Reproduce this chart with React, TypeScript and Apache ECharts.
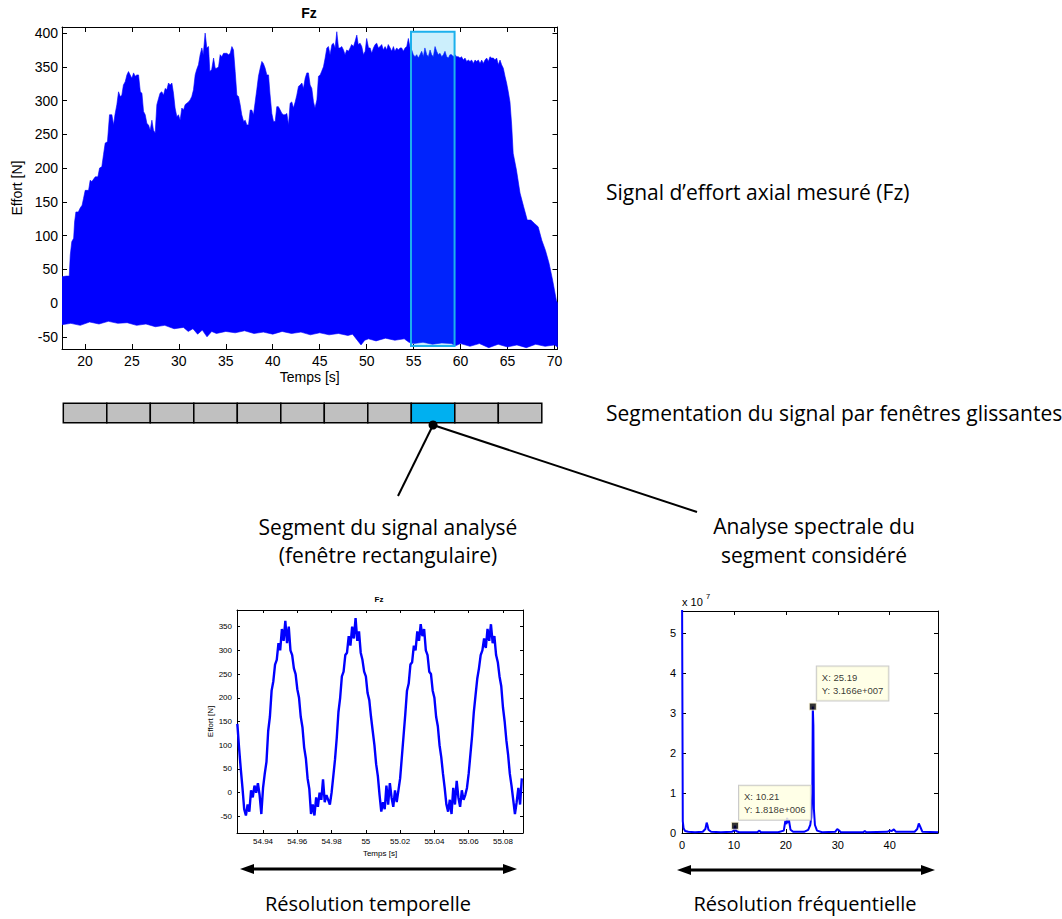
import React, { useEffect, useRef } from 'react';
import * as echarts from 'echarts';

// ---------- Top chart: envelope of the measured Fz signal ----------
const FZ_UPPER: [number, number][] = [
  [17.56, 39], [18.0, 40], [18.33, 40], [18.44, 71], [18.6, 91], [18.8, 96], [18.9, 120], [19.04, 135], [19.3, 135], [19.5, 141],
  [19.7, 145], [19.85, 155], [20.03, 167], [20.39, 167], [20.56, 182], [20.74, 180], [21.1, 187], [21.38, 187], [21.56, 200], [21.8, 202],
  [21.98, 220], [22.16, 237], [22.4, 239], [22.62, 279], [22.87, 279], [23.05, 264], [23.2, 279], [23.4, 294], [23.58, 313], [23.76, 306],
  [23.93, 308], [24.1, 323], [24.29, 328], [24.47, 338], [24.64, 343], [24.82, 338], [25.0, 333], [25.18, 341], [25.35, 336], [25.53, 338],
  [25.71, 338], [25.9, 313], [26.07, 311], [26.24, 284], [26.42, 279], [26.6, 266], [26.77, 264], [26.95, 256], [27.13, 271], [27.3, 256],
  [27.48, 252], [27.66, 294], [27.84, 303], [28.0, 311], [28.19, 313], [28.37, 308], [28.55, 318], [28.72, 316], [28.9, 326], [29.08, 323],
  [29.26, 326], [29.43, 311], [29.6, 289], [29.79, 276], [29.96, 279], [30.14, 271], [30.32, 289], [30.5, 286], [30.67, 294], [30.85, 296],
  [31.03, 298], [31.2, 301], [31.38, 306], [31.56, 316], [31.74, 338], [31.9, 346], [32.09, 353], [32.27, 368], [32.45, 378], [32.6, 368],
  [32.8, 400], [32.98, 378], [33.16, 380], [33.3, 343], [33.5, 346], [33.7, 363], [33.87, 348], [34.05, 348], [34.23, 350], [34.4, 368],
  [34.58, 365], [34.76, 370], [34.94, 370], [35.1, 370], [35.3, 368], [35.47, 370], [35.65, 380], [35.82, 375], [36.0, 343], [36.18, 308],
  [36.36, 306], [36.53, 294], [36.7, 279], [36.9, 269], [37.07, 271], [37.24, 264], [37.42, 264], [37.6, 286], [37.77, 286], [37.95, 279],
  [38.13, 298], [38.3, 316], [38.48, 336], [38.66, 348], [38.84, 358], [39.0, 355], [39.19, 348], [39.37, 338], [39.55, 338], [39.7, 311],
  [39.9, 281], [40.08, 269], [40.26, 269], [40.43, 291], [40.6, 291], [40.79, 286], [40.97, 281], [41.14, 279], [41.32, 279], [41.5, 281],
  [41.68, 264], [41.85, 296], [42.03, 298], [42.2, 289], [42.39, 298], [42.56, 308], [42.74, 321], [42.92, 323], [43.1, 326], [43.27, 318],
  [43.45, 333], [43.63, 341], [43.8, 341], [43.98, 323], [44.16, 318], [44.34, 298], [44.5, 289], [44.7, 301], [44.87, 336], [45.05, 338],
  [45.2, 343], [45.4, 350], [45.58, 363], [45.76, 378], [45.93, 380], [46.1, 368], [46.3, 383], [46.46, 385], [46.64, 378], [46.82, 402],
  [47.0, 378], [47.17, 378], [47.35, 380], [47.53, 375], [47.7, 368], [47.88, 375], [48.06, 373], [48.24, 378], [48.4, 383], [48.6, 380],
  [48.77, 388], [48.95, 397], [49.1, 383], [49.3, 385], [49.48, 380], [49.66, 368], [49.84, 373], [50.0, 392], [50.2, 378], [50.37, 378],
  [50.54, 370], [50.72, 378], [50.9, 383], [51.07, 385], [51.25, 378], [51.43, 380], [51.6, 383], [51.78, 375], [51.96, 380], [52.13, 375],
  [52.3, 383], [52.5, 378], [52.67, 373], [52.85, 380], [53.0, 373], [53.2, 378], [53.38, 375], [53.56, 378], [53.73, 378], [53.9, 373],
  [54.09, 378], [54.27, 380], [54.44, 392], [54.62, 378], [54.8, 375], [54.97, 368], [55.15, 365], [55.33, 368], [55.5, 363], [55.68, 368],
  [55.86, 373], [56.04, 365], [56.2, 378], [56.4, 368], [56.57, 365], [56.75, 375], [56.92, 368], [57.1, 365], [57.28, 380], [57.45, 373],
  [57.63, 368], [57.81, 370], [57.99, 365], [58.17, 368], [58.34, 373], [58.52, 365], [58.7, 363], [58.87, 368], [59.05, 368], [59.23, 365],
  [59.4, 368], [59.59, 365], [59.76, 365], [59.94, 363], [60.1, 365], [60.3, 360], [60.47, 363], [60.65, 358], [60.83, 360], [61.0, 358],
  [61.18, 360], [61.36, 355], [61.54, 360], [61.71, 358], [61.89, 360], [62.07, 355], [62.25, 360], [62.42, 355], [62.6, 360], [62.78, 363],
  [62.96, 358], [63.13, 365], [63.3, 363], [63.5, 363], [63.66, 360], [63.84, 363], [64.02, 353], [64.2, 360], [64.37, 353], [64.55, 348],
  [64.73, 336], [64.9, 326], [65.08, 313], [65.26, 298], [65.44, 264], [65.6, 222], [65.95, 197], [66.33, 163], [66.71, 143], [67.1, 123],
  [67.49, 123], [67.87, 118], [68.26, 113], [68.65, 93], [69.04, 78], [69.42, 59], [69.8, 34], [70.0, 19], [70.2, 4], [70.32, 0],
];

const FZ_LOWER: [number, number][] = [
  [17.56, -32], [18.5, -30], [19.5, -33], [20.5, -28], [21.5, -31], [22.5, -27], [23.5, -30], [24.5, -29], [25.5, -33], [26.5, -31],
  [27.5, -35], [28.5, -33], [29.5, -38], [30.5, -36], [31.0, -42], [31.5, -38], [32.0, -46], [32.5, -40], [33.0, -50], [33.5, -42],
  [34.0, -45], [35.0, -42], [36.0, -44], [37.0, -41], [38.0, -45], [39.0, -43], [40.0, -46], [41.0, -42], [42.0, -45], [43.0, -43],
  [44.0, -47], [45.0, -44], [46.0, -47], [47.0, -45], [48.0, -48], [48.5, -46], [49.0, -55], [49.4, -62], [49.8, -55], [50.2, -53],
  [51.0, -56], [52.0, -52], [53.0, -55], [54.0, -53], [54.5, -58], [55.0, -60], [56.0, -58], [57.0, -61], [58.0, -59], [59.0, -60],
  [59.5, -63], [60.0, -60], [61.0, -64], [62.0, -60], [63.0, -66], [64.0, -61], [65.0, -65], [66.0, -62], [67.0, -66], [68.0, -61],
  [69.0, -64], [70.0, -62], [70.32, -65],
];

// analysed window [t start, t end, Fz low, Fz high]
const WINDOW: [number, number, number, number] = [54.72, 59.36, -63.4, 402];

const TOP_X_TICKS = [20, 25, 30, 35, 40, 45, 50, 55, 60, 65, 70];
const TOP_Y_TICKS = [-50, 0, 50, 100, 150, 200, 250, 300, 350, 400];

// ---------- Bottom-left: zoom on the segment (1 ms sampling) ----------
const SEG_T0 = 54.925;
const SEG_DT = 0.001;
const SEG_FZ = [
  145, 95, 50, 10, -35, -48, -25, -40, 5, -10, 15, 0, 20, -5, -45,
  10, 40, 65, 130, 160, 215, 235, 270, 280, 315, 300, 345, 320, 362, 315, 350, 300, 290, 262, 250,
  218, 200, 160, 138, 95, 72, 30, 8, -45, -25,
  -48, -10, -30, 0, -15, 28, -20, -5, -15, -25,
  0, 35, 70, 115, 170, 200, 245, 255, 290, 295, 330, 310, 350, 325, 368, 320, 340, 295, 280, 255,
  245, 210, 195, 160, 130, 100, 60, 35, -5, -40, -20,
  -35, 15, -25, 20, -10, -30, 5, -20,
  5, 30, 75, 120, 165, 215, 230, 270, 275, 310, 300, 340, 320, 355, 330, 345, 300, 290, 255, 250,
  215, 200, 160, 140, 100, 75, 40, 10, -25, -40, -15,
  -45, 10, -25, 25, -10, -30, 5, -15, -5,
  10, 40, 80, 120, 170, 205, 240, 262, 290, 300, 325, 305, 345, 320, 355, 315, 330, 290,
  275, 245, 225, 180, 150, 110, 80, 40, 15, -15, -45, -20, 10, -25, 30,
];
const SEG_X_TICKS = [54.94, 54.96, 54.98, 55, 55.02, 55.04, 55.06, 55.08];
const SEG_Y_TICKS = [-50, 0, 50, 100, 150, 200, 250, 300, 350];

// ---------- Bottom-right: spectrum ----------
const SPEC_F = [
  0, 0.15, 0.3, 0.6, 1.2, 2.5, 4.0, 4.5, 4.75, 4.9, 5.1, 5.6, 7.5, 9.6, 10.0, 10.21, 10.4, 11, 14.5, 14.9,
  15.2, 18.5, 19.6, 19.9, 20.1, 20.25, 20.45, 20.6, 20.9, 21.4, 23.5, 24.3, 24.7, 24.9, 25.1, 25.19, 25.3, 25.4, 25.6, 26.0,
  27.0, 29.5, 29.9, 30.2, 30.6, 34.9, 35.2, 35.5, 39.5, 40.0, 40.4, 40.8, 41.2, 44.8, 45.3, 45.6, 45.9, 46.3, 49.3,
];
const SPEC_A = [
  6.5e7, 0.3e7, 0.12e7, 0.05e7, 0.03e7, 0.02e7, 0.03e7, 0.1e7, 0.26e7, 0.2e7, 0.08e7, 0.03e7, 0.02e7, 0.03e7, 0.06e7, 1.818e6, 0.05e7, 0.02e7, 0.02e7, 0.06e7,
  0.02e7, 0.02e7, 0.06e7, 0.3e7, 0.22e7, 0.38e7, 0.25e7, 0.32e7, 0.08e7, 0.03e7, 0.03e7, 0.08e7, 0.2e7, 0.4e7, 1.0e7, 3.166e7, 2.7e7, 0.6e7, 0.2e7, 0.06e7,
  0.02e7, 0.03e7, 0.1e7, 0.07e7, 0.02e7, 0.02e7, 0.05e7, 0.02e7, 0.03e7, 0.06e7, 0.05e7, 0.09e7, 0.03e7, 0.03e7, 0.1e7, 0.24e7, 0.15e7, 0.03e7, 0.02e7,
];
const SPEC_TIPS: [number, number][] = [[25.19, 3.166e7], [10.21, 1.818e6]];
const SPEC_X_TICKS = [0, 10, 20, 30, 40];
const SPEC_Y_TICKS = [0, 1e7, 2e7, 3e7, 4e7, 5e7];

// ---------- Diagram ----------
const SEGMENT_COUNT = 11;
const ACTIVE_SEGMENT = 8;

const AXF = 'Liberation Sans, Arial, sans-serif';
const TXF = 'Open Sans, Lato, sans-serif';

function fmtExp(a: number) {
  return a.toExponential(3).replace(/e([+-])(\d+)/, (_m, s, d) => 'e' + s + d.padStart(3, '0'));
}

function xPair(gridIndex: number, min: number, max: number, ticks: number[], fontSize: number, margin: number, tickLen: number,
  name: string, nameGap: number, fmt?: (v: number) => string) {
  const base: any = {
    type: 'value', gridIndex, min, max,
    axisLine: { onZero: false, lineStyle: { color: '#000', width: 1 } },
    splitLine: { show: false },
    axisTick: { inside: true, length: tickLen, customValues: ticks, lineStyle: { color: '#000', width: 1 } },
  };
  return [
    {
      ...base, position: 'bottom',
      axisLabel: { customValues: ticks, color: '#000', fontSize, fontFamily: AXF, margin, formatter: fmt },
      name, nameLocation: 'middle', nameGap,
      nameTextStyle: { color: '#000', fontSize, fontFamily: AXF },
    },
    { ...base, position: 'top', axisLabel: { show: false } },
  ];
}
function yPair(gridIndex: number, min: number, max: number, ticks: number[], fontSize: number, margin: number, tickLen: number,
  name: string, nameGap: number, nameSize: number, fmt?: (v: number) => string) {
  const base: any = {
    type: 'value', gridIndex, min, max,
    axisLine: { show: true, onZero: false, lineStyle: { color: '#000', width: 1 } },
    splitLine: { show: false },
    axisTick: { show: true, inside: true, length: tickLen, customValues: ticks, lineStyle: { color: '#000', width: 1 } },
  };
  return [
    {
      ...base, position: 'left',
      axisLabel: { customValues: ticks, color: '#000', fontSize, fontFamily: AXF, margin, formatter: fmt },
      name, nameLocation: 'middle', nameGap,
      nameTextStyle: { color: '#000', fontSize: nameSize, fontFamily: AXF },
    },
    { ...base, position: 'right', axisLabel: { show: false } },
  ];
}

function txt(text: string, x: number, y: number, align: string, size = 21, font = TXF, weight = 'normal') {
  return {
    type: 'text', x, y, silent: true,
    style: {
      text, fill: '#000', fontSize: size, fontFamily: font, fontWeight: weight,
      align, textAlign: align, verticalAlign: 'middle', textVerticalAlign: 'middle',
    },
  };
}

function arrow(x1: number, x2: number, y: number) {
  const hl = 14, hw = 5;
  return [
    { type: 'line', shape: { x1: x1 + hl - 2, y1: y, x2: x2 - hl + 2, y2: y }, style: { stroke: '#000', lineWidth: 3 } },
    { type: 'polygon', shape: { points: [[x1, y], [x1 + hl, y - hw], [x1 + hl, y + hw]] }, style: { fill: '#000' } },
    { type: 'polygon', shape: { points: [[x2, y], [x2 - hl, y - hw], [x2 - hl, y + hw]] }, style: { fill: '#000' } },
  ];
}

function buildGraphic() {
  const g: any[] = [];
  // segmentation bar
  const bx = 63.3, by = 403.3, bw = 43.5, bh = 19.4;
  for (let i = 0; i < SEGMENT_COUNT; i++) {
    g.push({
      type: 'rect', shape: { x: bx + i * bw, y: by, width: bw, height: bh },
      style: { fill: i === ACTIVE_SEGMENT ? '#00b0f0' : '#c0c0c0', stroke: '#000', lineWidth: 1.5 },
    });
  }
  const dx = bx + ACTIVE_SEGMENT * bw + bw / 2, dy = 425;
  g.push({ type: 'line', shape: { x1: dx, y1: dy, x2: 398, y2: 496 }, style: { stroke: '#000', lineWidth: 2 } });
  g.push({ type: 'line', shape: { x1: dx, y1: dy, x2: 697, y2: 512 }, style: { stroke: '#000', lineWidth: 2 } });
  g.push({ type: 'circle', shape: { cx: dx, cy: dy, r: 4.5 }, style: { fill: '#000' } });

  g.push(txt('Signal d\u2019effort axial mesuré (Fz)', 606, 192, 'left'));
  g.push(txt('Segmentation du signal par fenêtres glissantes', 606, 413, 'left'));
  g.push(txt('Segment du signal analysé', 388, 527, 'center'));
  g.push(txt('(fenêtre rectangulaire)', 388, 555, 'center'));
  g.push(txt('Analyse spectrale du', 814, 526, 'center'));
  g.push(txt('segment considéré', 814, 555, 'center'));
  g.push(txt('Résolution temporelle', 368, 903, 'center', 20));
  g.push(txt('Résolution fréquentielle', 805, 903, 'center', 20));

  g.push(...arrow(240, 517, 869));
  g.push(...arrow(677, 935, 870));

  // chart titles
  g.push(txt('Fz', 309, 13, 'center', 14, AXF, 'bold'));
  g.push(txt('Fz', 379, 599, 'center', 8, AXF, 'bold'));
  // exponent of spectrum axis
  g.push(txt('x 10', 682, 602, 'left', 11, AXF));
  g.push(txt('7', 706, 596, 'left', 7.5, AXF));
  return g;
}

export default function App() {
  const ref = useRef<HTMLDivElement>(null);
  useEffect(() => {
    const chart = echarts.init(ref.current!, null, { renderer: 'svg' });
    const segData = SEG_FZ.map((v, i) => [SEG_T0 + i * SEG_DT, v]);
    const specData = SPEC_F.map((f, i) => [f, SPEC_A[i]]);

    const option: any = {
      animation: false,
      backgroundColor: '#fff',
      grid: [
        { left: 62, top: 27, width: 495.5, height: 322 },
        { left: 237, top: 610, width: 286, height: 223 },
        { left: 682, top: 611, width: 256, height: 222 },
      ],
      xAxis: [
        ...xPair(0, 17.56, 70.32, TOP_X_TICKS, 14, 5, 5, 'Temps [s]', 21),
        ...xPair(1, 54.9248, 55.0917, SEG_X_TICKS, 8, 4, 3, 'Temps [s]', 16, (v: number) => String(Number(v.toFixed(2)))),
        ...xPair(2, 0, 49.3, SPEC_X_TICKS, 11, 6, 4, '', 20),
      ],
      yAxis: [
        ...yPair(0, -68, 409, TOP_Y_TICKS, 14, 4, 5, 'Effort [N]', 38, 14),
        ...yPair(1, -85, 385, SEG_Y_TICKS, 8, 5, 3, 'Effort [N]', 22, 8),
        ...yPair(2, 0, 5.56e7, SPEC_Y_TICKS, 11, 6, 4, '', 20, 11, (v: number) => String(Math.round(v / 1e7))),
      ],
      graphic: buildGraphic(),
      series: [
        {
          type: 'custom', name: 'Fz', xAxisIndex: 0, yAxisIndex: 0, clip: true, silent: true,
          data: [FZ_UPPER[0]],
          renderItem: (_p: any, api: any) => {
            const pts = [
              ...FZ_UPPER.map((p) => api.coord(p)),
              ...FZ_LOWER.slice().reverse().map((p) => api.coord(p)),
            ];
            return { type: 'polygon', shape: { points: pts }, style: { fill: '#0000ff', stroke: '#0000ff', lineWidth: 0.6 } };
          },
          z: 2,
        },
        {
          type: 'custom', name: 'window', xAxisIndex: 0, yAxisIndex: 0, silent: true,
          data: [WINDOW],
          encode: { x: [0, 1], y: [2, 3] },
          renderItem: (_p: any, api: any) => {
            const a = api.coord([api.value(0), api.value(3)]);
            const b = api.coord([api.value(1), api.value(2)]);
            return {
              type: 'rect', shape: { x: a[0], y: a[1], width: b[0] - a[0], height: b[1] - a[1] },
              style: { fill: 'rgba(0,176,240,0.2)', stroke: '#1cb0ec', lineWidth: 2 },
            };
          },
          z: 3,
        },
        {
          type: 'line', name: 'segment', xAxisIndex: 2, yAxisIndex: 2, data: segData,
          showSymbol: false, symbol: 'none', lineStyle: { color: '#0000ff', width: 2.4 }, silent: true,
        },
        {
          type: 'line', name: 'spectrum', xAxisIndex: 4, yAxisIndex: 4, data: specData,
          showSymbol: false, symbol: 'none', lineStyle: { color: '#0000ff', width: 2 }, silent: true, clip: true,
        },
        {
          type: 'scatter', name: 'tips', xAxisIndex: 4, yAxisIndex: 4, data: SPEC_TIPS,
          symbol: 'rect', symbolSize: 7, silent: true, z: 5,
          itemStyle: { color: '#000', borderColor: '#fff8d8', borderWidth: 1 },
          label: {
            show: true, position: [8, -36], align: 'left', verticalAlign: 'top',
            formatter: (p: any) => `X: ${p.value[0]}\nY: ${fmtExp(p.value[1])}`,
            backgroundColor: '#ffffe1', borderColor: '#bdbdbd', borderWidth: 1,
            padding: [4, 5, 4, 5], lineHeight: 13, fontSize: 9.5, fontFamily: AXF, color: '#000',
          },
        },
      ],
    };
    chart.setOption(option);
    return () => chart.dispose();
  }, []);
  return (
    <div ref={ref} style={{ position: 'absolute', left: 0, top: 0, width: 1062, height: 919, background: '#fff' }} />
  );
}
